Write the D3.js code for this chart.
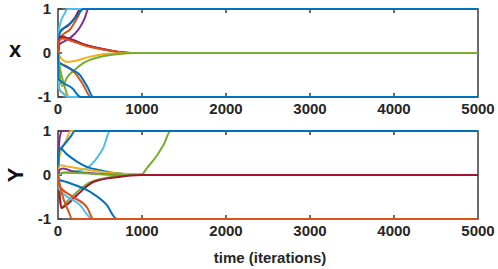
<!DOCTYPE html>
<html><head><meta charset="utf-8">
<script src="https://cdn.jsdelivr.net/npm/d3@7/dist/d3.min.js"></script>
<style>body{margin:0;background:#fff}svg{display:block}</style>
</head><body>
<script>
// ---- data ----
const timeTicks = [0, 1000, 2000, 3000, 4000, 5000];
const valueTicks = [-1, 0, 1];
const panelLabels = ["x", "Y"];
const xAxisTitle = "time (iterations)";

// top panel (x) trajectories: [time, value]
const xTrajectories = [
  [[0,0],[10,0.4],[30,0.5],[120,0.62],[200,0.8],[270,1],[5000,1]],
  [[0,0],[15,0.3],[40,0.38],[150,0.55],[230,0.8],[290,1],[5000,1]],
  [[0,0],[10,0.5],[40,0.75],[80,0.9],[110,1],[5000,1]],
  [[0,0],[20,0.2],[60,0.25],[150,0.35],[250,0.55],[320,0.8],[360,1],[5000,1]],
  [[0,0],[20,0.45],[60,0.55],[150,0.68],[230,0.85],[300,1],[5000,1]],
  [[0,0],[15,0.3],[40,0.36],[150,0.32],[300,0.2],[500,0.1],[700,0.03],[900,0],[5000,0]],
  [[0,0],[15,0.3],[40,0.38],[150,0.3],[300,0.2],[500,0.1],[700,0.03],[900,0],[5000,0]],
  [[0,0],[15,0.28],[50,0.33],[150,0.28],[300,0.18],[500,0.09],[700,0.03],[900,0],[5000,0]],
  [[0,0],[30,-0.1],[100,-0.2],[200,-0.18],[350,-0.1],[500,-0.04],[700,-0.01],[900,0],[5000,0]],
  [[0,0],[20,-0.5],[50,-0.75],[110,-0.55],[200,-0.38],[300,-0.23],[500,-0.09],[700,-0.03],[900,0],[5000,0]],
  [[0,0],[10,-0.2],[100,-0.3],[200,-0.45],[300,-0.72],[390,-1],[5000,-1]],
  [[0,0],[10,-0.2],[140,-0.35],[260,-0.5],[350,-0.77],[420,-1],[5000,-1]],
  [[0,0],[20,-0.3],[70,-0.7],[130,-1],[5000,-1]],
  [[0,0],[20,-0.85],[80,-0.93],[150,-1],[5000,-1]],
  [[0,0],[10,-0.8],[60,-0.92],[120,-1],[5000,-1]],
  [[0,0],[10,-0.6],[170,-0.8],[270,-1],[5000,-1]]
];
const xColors = ["red","orange","lightblue","purple","blue","purple","red","orange","yellow","green","orange","blue","green","yellow","lightblue","blue"];

// bottom panel (Y) trajectories
const yTrajectories = [
  [[0,0],[10,0.6],[25,0.9],[50,1],[5000,1]],
  [[0,0],[15,0.4],[40,0.55],[100,0.8],[150,1],[5000,1]],
  [[0,0],[50,0.05],[200,0.08],[350,0.17],[460,0.38],[540,0.62],[620,1],[5000,1]],
  [[0,0],[20,-0.4],[40,-0.75],[100,-0.62],[230,-0.38],[380,-0.17],[620,-0.05],[850,0],[1000,0.02],[1060,0.16],[1180,0.45],[1260,0.7],[1340,1],[5000,1]],
  [[0,0],[10,0.55],[30,0.6],[100,0.75],[160,0.9],[200,1],[5000,1]],
  [[0,0],[10,0.55],[30,0.6],[100,0.48],[230,0.3],[350,0.18],[500,0.11],[650,0.05],[820,0.02],[1000,0],[5000,0]],
  [[0,0],[20,0.22],[150,0.18],[380,0.11],[620,0.05],[900,0.01],[1000,0],[5000,0]],
  [[0,0],[20,0.12],[60,0.15],[150,0.1],[400,0.04],[800,0],[5000,0]],
  [[0,0],[50,0.05],[300,0.04],[600,0.01],[900,0],[5000,0]],
  [[0,0],[20,-0.5],[40,-0.75],[100,-0.68],[230,-0.45],[420,-0.16],[700,-0.05],[1000,0],[5000,0]],
  [[0,0],[10,-0.1],[100,-0.16],[380,-0.38],[580,-0.68],[700,-1],[5000,-1]],
  [[0,0],[10,-0.3],[50,-0.4],[260,-0.68],[380,-0.97],[400,-1],[5000,-1]],
  [[0,0],[10,-0.23],[180,-0.5],[350,-0.75],[420,-1],[5000,-1]],
  [[0,0],[10,-0.1],[50,-0.45],[120,-0.8],[170,-1],[5000,-1]]
];
const yColors = ["purple","yellow","lightblue","green","blue","blue","yellow","purple","green","red","blue","lightblue","orange","orange"];

// ---- styles ----
const palette = {blue:"#0072BD", orange:"#D95319", yellow:"#EDB120", purple:"#7E2F8E",
                 green:"#77AC30", lightblue:"#4DBEEE", red:"#A2142F"};
const W = 498, H = 269;
const axisColor = "#3a3a3a", textColor = "#262626";
const fontFam = "'Liberation Sans', Arial, Helvetica, sans-serif";

const svg = d3.select("body").append("svg").attr("width", W).attr("height", H);

const x = d3.scaleLinear().domain([0, 5000]).range([58, 478]);
const panels = [
  {data: xTrajectories, colors: xColors, top: 9, bottom: 97, label: panelLabels[0], rot: 0},
  {data: yTrajectories, colors: yColors, top: 131, bottom: 219, label: panelLabels[1], rot: -90}
];

panels.forEach((p, i) => {
  const y = d3.scaleLinear().domain([-1, 1]).range([p.bottom, p.top]);
  const g = svg.append("g");

  // frame
  g.append("rect").attr("x", x(0)).attr("y", p.top).attr("width", x(5000) - x(0))
    .attr("height", p.bottom - p.top).attr("fill", "none")
    .attr("stroke", axisColor).attr("stroke-width", 1.5);

  // ticks (inside)
  timeTicks.slice(1, -1).forEach(t => {
    g.append("line").attr("x1", x(t)).attr("x2", x(t)).attr("y1", p.top).attr("y2", p.top + 4)
      .attr("stroke", axisColor).attr("stroke-width", 1.5);
    g.append("line").attr("x1", x(t)).attr("x2", x(t)).attr("y1", p.bottom).attr("y2", p.bottom - 4)
      .attr("stroke", axisColor).attr("stroke-width", 1.5);
  });
  valueTicks.forEach(v => {
    g.append("line").attr("x1", x(0)).attr("x2", x(0) + 4).attr("y1", y(v)).attr("y2", y(v))
      .attr("stroke", axisColor).attr("stroke-width", 1.5);
    g.append("line").attr("x1", x(5000)).attr("x2", x(5000) - 4).attr("y1", y(v)).attr("y2", y(v))
      .attr("stroke", axisColor).attr("stroke-width", 1.5);
  });

  // lines
  const line = d3.line().x(d => x(d[0])).y(d => y(d[1])).curve(d3.curveMonotoneX);
  g.selectAll("path.traj").data(p.data).join("path").attr("class", "traj")
    .attr("d", line).attr("fill", "none")
    .attr("stroke", (d, j) => palette[p.colors[j]])
    .attr("stroke-width", 2).attr("stroke-linejoin", "round");

  // y tick labels
  valueTicks.forEach(v => {
    g.append("text").attr("x", 51).attr("y", y(v)).attr("dy", "0.36em")
      .attr("text-anchor", "end").attr("font-family", fontFam).attr("font-weight", "bold")
      .attr("font-size", 15).attr("fill", textColor).text(v);
  });
  // x tick labels
  timeTicks.forEach(t => {
    g.append("text").attr("x", x(t)).attr("y", p.bottom + 17)
      .attr("text-anchor", "middle").attr("font-family", fontFam).attr("font-weight", "bold")
      .attr("font-size", 15).attr("fill", textColor).text(t);
  });
  // panel label
  g.append("text").attr("transform", `translate(15,${y(0)}) rotate(${p.rot})`)
    .attr("dy", p.rot ? "0.36em" : "0.2em")
    .attr("text-anchor", "middle").attr("font-family", fontFam).attr("font-weight", "bold")
    .attr("font-size", 22).attr("fill", "#111").text(p.label);
});

svg.append("text").attr("x", 270).attr("y", 263).attr("text-anchor", "middle")
  .attr("font-family", fontFam).attr("font-weight", "bold").attr("font-size", 15)
  .attr("fill", textColor).text(xAxisTitle);
</script>
</body></html>
